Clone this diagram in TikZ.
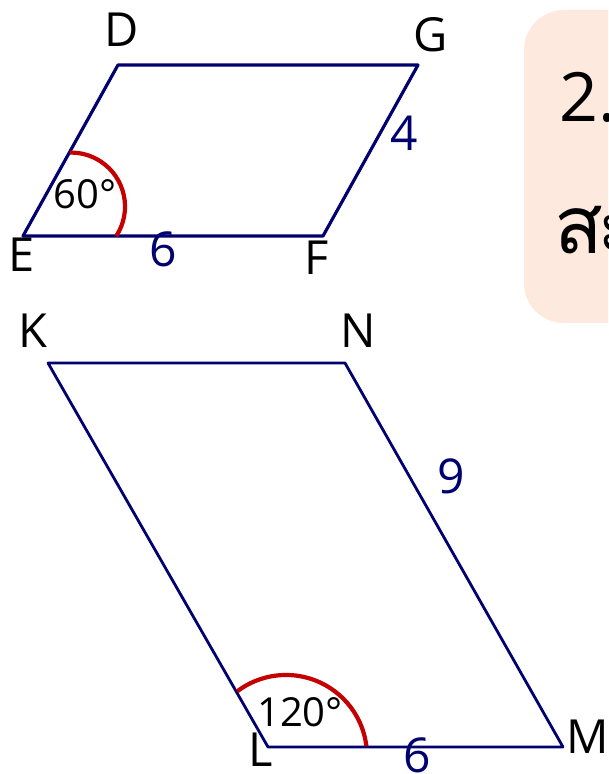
\documentclass[tikz,border=0pt]{standalone}
\usepackage{fontspec}
\setmainfont{Open Sans}
\newfontfamily\thaifont[Script=Thai]{Loma}
\definecolor{navy}{RGB}{0,0,110}
\definecolor{arcred}{RGB}{196,0,0}
\definecolor{peach}{RGB}{253,233,221}
\begin{document}
\begin{tikzpicture}[x=1pt,y=1pt,
  edge/.style={draw=navy,line width=3.2pt,line join=round},
  edgeb/.style={draw=navy,line width=2.8pt,line join=round},
  angarc/.style={draw=arcred,line width=4.2pt},
  lbl/.style={inner sep=0pt,anchor=center,font=\fontsize{47}{50}\selectfont},
  num/.style={inner sep=0pt,anchor=center,text=navy,font=\fontsize{48}{50}\selectfont},
  ang/.style={inner sep=0pt,anchor=center,font=\fontsize{40}{44}\selectfont},
  boxtxt/.style={inner sep=0pt,anchor=west,font=\fontsize{68}{72}\selectfont},
  boxthai/.style={inner sep=0pt,anchor=west,font=\fontsize{80}{84}\selectfont\thaifont}]
\useasboundingbox (0,0) rectangle (608,774);
\clip (0,0) rectangle (608,774);
% info box
\fill[peach,rounded corners=40pt] (524,451) rectangle (680,764);
\node[boxtxt] (t1) at (559,677) {2.};
\node[boxthai] (t2) at (554,544) {ส\kern-6ptะ};
% top parallelogram
\coordinate (E) at (23,538);
\coordinate (F) at (323,538);
\coordinate (G) at (418,709);
\coordinate (D) at (118,709);
\draw[edge] (E) -- (F) -- (G) -- (D) -- cycle;
\draw[angarc] (116.3,538) arc[start angle=-33,end angle=91,radius=54];
\node[lbl] (lD) at (122,744) {D};
\node[lbl] (lG) at (431,739) {G};
\node[lbl] (lE) at (22,519) {E};
\node[lbl] (lF) at (317,516) {F};
\node[num] (n6a) at (163,525) {6};
\node[num] (n4) at (404,641) {4};
\node[ang] (a60) at (85,580) {60°};
% bottom parallelogram
\coordinate (K) at (48,411);
\coordinate (N) at (345,411);
\coordinate (M) at (563,27);
\coordinate (L) at (268,27);
\draw[edgeb] (K) -- (N) -- (M) -- (L) -- cycle;
\draw[angarc] (366.4,27.9) arc[start angle=7,end angle=127,radius=81];
\node[lbl] (lK) at (33,443) {K};
\node[lbl] (lN) at (358,443) {N};
\node[lbl] (lL) at (261,24) {L};
\node[lbl] (lM) at (588,37) {M};
\node[num] (n9) at (451,298) {9};
\node[num] (n6b) at (417,19) {6};
\node[ang] (a120) at (300,62) {120°};
\end{tikzpicture}
\end{document}
